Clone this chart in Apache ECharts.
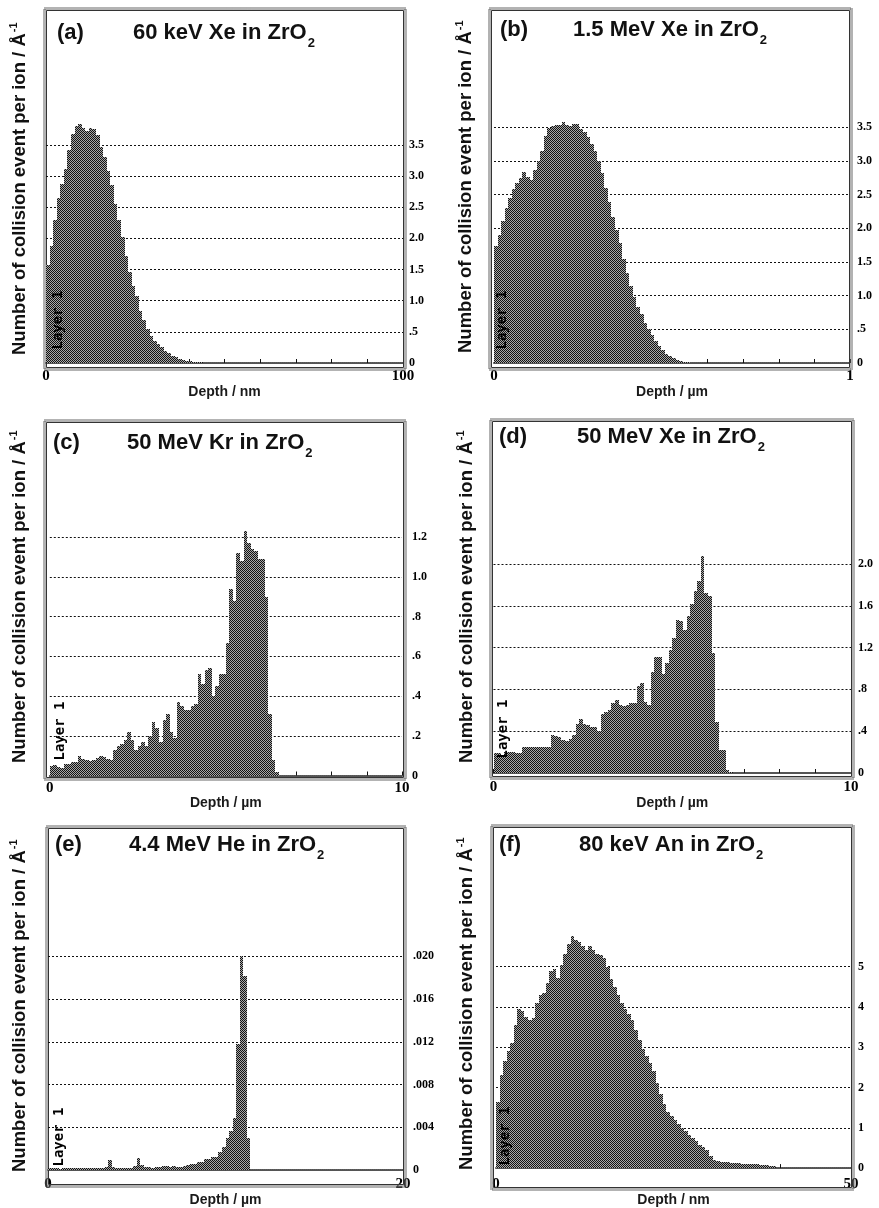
<!DOCTYPE html>
<html><head><meta charset="utf-8">
<script src="https://cdn.jsdelivr.net/npm/echarts@6/dist/echarts.min.js"></script>
<style>html,body{margin:0;padding:0;background:#fff}#c{width:879px;height:1208px}</style>
</head><body><div id="c"></div>
<script>
// ---------------- DATA ----------------
const panelLetters = ['(a)', '(b)', '(c)', '(d)', '(e)', '(f)'];
const panelTitles = ['60 keV Xe in ZrO', '1.5 MeV Xe in ZrO', '50 MeV Kr in ZrO', '50 MeV Xe in ZrO', '4.4 MeV He in ZrO', '80 keV An in ZrO'];
const titleSubscript = '2';
const xAxisNames = ['Depth / nm', 'Depth / µm', 'Depth / µm', 'Depth / µm', 'Depth / µm', 'Depth / nm'];
const yAxisName = 'Number of collision event per ion / Å';
const yAxisNameSup = '-1';
const layerLabel = 'Layer 1';

const xMax = [100, 1, 10, 10, 20, 50];
const xTickStep = [10, 0.1, 1, 1, 10, 10];
const xTickLabelsA = ['0', '100'];
const xTickLabelsB = ['0', '1'];
const xTickLabelsC = ['0', '10'];
const xTickLabelsD = ['0', '10'];
const xTickLabelsE = ['0', '20'];
const xTickLabelsF = ['0', '50'];
const binWidth = [1, 0.01, 0.1, 0.1, 0.2, 0.5];

const yTicksA = [0, 0.5, 1.0, 1.5, 2.0, 2.5, 3.0, 3.5];
const yTickLabelsA = ['0', '.5', '1.0', '1.5', '2.0', '2.5', '3.0', '3.5'];
const yTicksB = [0, 0.5, 1.0, 1.5, 2.0, 2.5, 3.0, 3.5];
const yTickLabelsB = ['0', '.5', '1.0', '1.5', '2.0', '2.5', '3.0', '3.5'];
const yTicksC = [0, 0.2, 0.4, 0.6, 0.8, 1.0, 1.2];
const yTickLabelsC = ['0', '.2', '.4', '.6', '.8', '1.0', '1.2'];
const yTicksD = [0, 0.4, 0.8, 1.2, 1.6, 2.0];
const yTickLabelsD = ['0', '.4', '.8', '1.2', '1.6', '2.0'];
const yTicksE = [0, 0.004, 0.008, 0.012, 0.016, 0.020];
const yTickLabelsE = ['0', '.004', '.008', '.012', '.016', '.020'];
const yTicksF = [0, 1, 2, 3, 4, 5];
const yTickLabelsF = ['0', '1', '2', '3', '4', '5'];

const collisionsA = [1.57,1.88,2.30,2.65,2.88,3.12,3.42,3.68,3.80,3.84,3.78,3.72,3.78,3.76,3.66,3.46,3.30,3.08,2.86,2.55,2.30,2.02,1.72,1.46,1.24,1.08,0.84,0.69,0.55,0.44,0.36,0.30,0.25,0.20,0.16,0.12,0.09,0.07,0.05,0.04,0.03,0.02,0.015,0.01,0.005];
const collisionsB = [1.73,1.90,2.10,2.30,2.45,2.58,2.67,2.74,2.83,2.76,2.72,2.86,3.00,3.15,3.37,3.48,3.52,3.53,3.53,3.57,3.53,3.51,3.54,3.55,3.47,3.42,3.35,3.25,3.15,3.00,2.82,2.60,2.39,2.17,1.98,1.78,1.55,1.33,1.14,0.98,0.83,0.72,0.60,0.50,0.41,0.33,0.25,0.19,0.14,0.10,0.07,0.045,0.03,0.015,0.008];
const collisionsC = [0.05,0.055,0.045,0.04,0.06,0.06,0.07,0.07,0.10,0.085,0.08,0.075,0.08,0.09,0.10,0.095,0.085,0.08,0.13,0.15,0.16,0.18,0.22,0.18,0.13,0.15,0.17,0.15,0.20,0.27,0.24,0.17,0.28,0.31,0.22,0.19,0.37,0.35,0.33,0.33,0.35,0.36,0.51,0.46,0.53,0.54,0.40,0.45,0.51,0.51,0.67,0.94,0.88,1.12,1.08,1.23,1.17,1.14,1.13,1.09,1.09,0.90,0.31,0.08,0.02];
const collisionsD = [0.19,0.19,0.17,0.20,0.20,0.20,0.19,0.19,0.245,0.245,0.245,0.245,0.245,0.245,0.245,0.245,0.36,0.35,0.34,0.32,0.31,0.33,0.36,0.47,0.52,0.47,0.46,0.44,0.44,0.40,0.56,0.58,0.60,0.67,0.70,0.65,0.64,0.65,0.67,0.67,0.83,0.86,0.68,0.65,0.97,1.11,1.11,0.95,1.05,1.18,1.29,1.46,1.45,1.37,1.50,1.62,1.74,1.84,2.08,1.72,1.69,1.15,0.49,0.22,0.22,0.03,0.01];
const collisionsE = [0.0002,0.0002,0.0002,0.0001,0.0002,0.0002,0.0002,0.0002,0.0002,0.0002,0.0002,0.0002,0.0002,0.0002,0.0002,0.0002,0.0003,0.0009,0.0003,0.0002,0.0002,0.0002,0.0002,0.0002,0.0004,0.0011,0.0005,0.0003,0.0003,0.0002,0.0003,0.0003,0.0004,0.0004,0.0003,0.0004,0.0003,0.0003,0.0004,0.0005,0.0006,0.0006,0.0008,0.0008,0.0010,0.0010,0.0012,0.0012,0.0017,0.0022,0.0030,0.0037,0.0049,0.0118,0.0200,0.0182,0.0030];
const collisionsF = [1.65,2.30,2.65,2.90,3.10,3.55,3.95,3.90,3.75,3.68,3.72,4.10,4.30,4.35,4.60,4.88,4.94,4.72,5.05,5.30,5.55,5.75,5.66,5.60,5.52,5.42,5.50,5.40,5.30,5.28,5.20,5.00,4.70,4.50,4.30,4.10,3.95,3.83,3.68,3.43,3.19,2.95,2.79,2.60,2.40,2.10,1.85,1.60,1.40,1.30,1.20,1.10,1.00,0.92,0.82,0.74,0.66,0.58,0.52,0.44,0.30,0.20,0.18,0.15,0.14,0.14,0.13,0.12,0.12,0.11,0.10,0.10,0.10,0.09,0.08,0.08,0.07,0.06,0.04];

// ---------------- LAYOUT ----------------
const collisions = [collisionsA, collisionsB, collisionsC, collisionsD, collisionsE, collisionsF];
const yTicks = [yTicksA, yTicksB, yTicksC, yTicksD, yTicksE, yTicksF];
const yTickLabels = [yTickLabelsA, yTickLabelsB, yTickLabelsC, yTickLabelsD, yTickLabelsE, yTickLabelsF];
const xTickLabels = [xTickLabelsA, xTickLabelsB, xTickLabelsC, xTickLabelsD, xTickLabelsE, xTickLabelsF];

const layout = [
  {frame:[43,7,364,364],   x0:46,   x1:403, base:363,   ppu:62.3,  yMax:5.5,   yStep:0.5,   ylm:6,  xlm:6,  nameGap:17, t:[57,133,33],   yn:[20,355],  ly:[58,320]},
  {frame:[488,7,365,364],  x0:494,  x1:850, base:363,   ppu:67.4,  yMax:5.0,   yStep:0.5,   ylm:7,  xlm:6,  nameGap:17, t:[500,573,30],  yn:[466,353], ly:[502,320]},
  {frame:[43,419,364,362], x0:49.8, x1:402, base:775.5, ppu:198.5, yMax:1.6,   yStep:0.2,   ylm:10, xlm:5,  nameGap:15, t:[53,127,443],  yn:[20,763],  ly:[60,731]},
  {frame:[489,418,366,362],x0:493.5,x1:851, base:773,   ppu:104.5, yMax:3.2,   yStep:0.4,   ylm:7,  xlm:7,  nameGap:17, t:[499,577,437], yn:[467,763], ly:[503,729]},
  {frame:[45,825,362,363], x0:48,   x1:403, base:1183,  ppu:11150, yMax:0.028, yStep:0.004, ylm:10, xlm:7,  nameGap:17, t:[55,129,845],  yn:[20,1172], ly:[59,1137]},
  {frame:[490,824,365,367],x0:496,  x1:851, base:1180,  ppu:41.8,  yMax:8,     yStep:1,     ylm:7,  xlm:9,  nameGap:18, t:[499,579,845], yn:[467,1170],ly:[505,1136]}
];

const SANS = '"Liberation Sans", Arial, Helvetica, sans-serif';
const SERIF = '"Liberation Serif", "Times New Roman", serif';
const MONO = '"DejaVu Sans Mono", monospace';

function makePattern() {
  const c = document.createElement('canvas');
  c.width = 4; c.height = 4;
  const g = c.getContext('2d');
  g.fillStyle = '#a8a8a8'; g.fillRect(0, 0, 4, 4);
  g.fillStyle = '#121212';
  for (let r = 0; r < 4; r++) for (let q = 0; q < 4; q++) if ((r + q) % 2 === 0) g.fillRect(q, r, 1, 1);
  return c;
}
const patCanvas = makePattern();
const patFill = {image: patCanvas, repeat: 'repeat'};
const mctx = document.createElement('canvas').getContext('2d');
function measure(text, font) { mctx.font = font; return mctx.measureText(text).width; }

const grids = [], xAxes = [], yAxes = [], series = [], graphics = [];

layout.forEach((L, i) => {
  const top = L.base - L.yMax * L.ppu;
  grids.push({left: L.x0, top: top, width: L.x1 - L.x0, height: L.base - top});
  const xm = xMax[i];
  const xl = xTickLabels[i];
  xAxes.push({
    type: 'value', gridIndex: i, min: 0, max: xm, interval: xTickStep[i],
    name: xAxisNames[i], nameLocation: 'middle', nameGap: L.nameGap,
    nameTextStyle: {fontFamily: SANS, fontWeight: 'bold', fontSize: 14, color: '#1a1a1a'},
    axisLine: {show: true, lineStyle: {color: '#555', width: 2, type: [1, 1]}},
    axisTick: {show: true, inside: true, length: 4, lineStyle: {color: '#111', width: 1}},
    splitLine: {show: false},
    axisLabel: {
      margin: L.xlm, fontFamily: SERIF, fontWeight: 'bold', fontSize: 15, color: '#000',
      showMinLabel: true, showMaxLabel: true,
      formatter: function (v) {
        if (Math.abs(v) < xm * 1e-6) return xl[0];
        if (Math.abs(v - xm) < xm * 1e-6) return xl[1];
        return '';
      }
    }
  });
  const tk = yTicks[i], tl = yTickLabels[i], st = L.yStep;
  yAxes.push({
    type: 'value', gridIndex: i, position: 'right', min: 0, max: L.yMax, interval: L.yStep,
    axisLine: {show: false}, axisTick: {show: false}, splitLine: {show: false},
    axisLabel: {
      margin: L.ylm, fontFamily: SERIF, fontWeight: 'bold', fontSize: 12, color: '#000',
      formatter: function (v) {
        for (let k = 0; k < tk.length; k++) if (Math.abs(tk[k] - v) < st * 1e-3) return tl[k];
        return '';
      }
    }
  });
  const vals = collisions[i], bw = binWidth[i];
  series.push({
    type: 'custom', xAxisIndex: i, yAxisIndex: i, silent: true, animation: false, z: 4,
    data: vals.map((v, k) => [k * bw, v]),
    encode: {x: 0, y: 1},
    renderItem: function (params, api) {
      const x = api.value(0), y = api.value(1);
      const p0 = api.coord([x, y]);
      const p1 = api.coord([x + bw, 0]);
      const l = Math.round(p0[0]), r = Math.round(p1[0]);
      const t = Math.round(p0[1]), b = Math.round(p1[1]);
      return {type: 'rect', shape: {x: l, y: t, width: r - l, height: b - t}, style: {fill: patFill, stroke: null}};
    },
    markLine: {
      silent: true, animation: false, z: 1, symbol: ['none', 'none'], label: {show: false}, precision: 6,
      lineStyle: {type: [2, 2], color: '#111', width: 1},
      data: tk.filter(v => v > 0).map(v => ({yAxis: v}))
    }
  });

  // frame
  const f = L.frame;
  graphics.push({type: 'rect', z: 1, silent: true,
    shape: {x: f[0] + 1.5, y: f[1] + 1.5, width: f[2] - 3, height: f[3] - 3},
    style: {fill: 'none', stroke: '#666', lineWidth: 3, lineDash: [1, 1]}});
  graphics.push({type: 'rect', z: 1, silent: true,
    shape: {x: f[0] + 3.5, y: f[1] + 3.5, width: f[2] - 7, height: f[3] - 7},
    style: {fill: 'none', stroke: '#333', lineWidth: 1}});

  // title
  const tFont = 'bold 22px ' + SANS;
  graphics.push({type: 'text', z: 10, silent: true, x: L.t[0], y: L.t[2],
    style: {text: panelLetters[i], font: tFont, fill: '#111', textAlign: 'left', textVerticalAlign: 'middle'}});
  graphics.push({type: 'text', z: 10, silent: true, x: L.t[1], y: L.t[2],
    style: {text: panelTitles[i], font: tFont, fill: '#111', textAlign: 'left', textVerticalAlign: 'middle'}});
  const tw = measure(panelTitles[i], tFont);
  graphics.push({type: 'text', z: 10, silent: true, x: L.t[1] + tw + 1, y: L.t[2] + 10,
    style: {text: titleSubscript, font: 'bold 13px ' + SANS, fill: '#111', textAlign: 'left', textVerticalAlign: 'middle'}});

  // y-axis name (rotated)
  const yFont = 'bold 18.5px ' + SANS;
  const yw = measure(yAxisName, yFont);
  graphics.push({type: 'group', x: L.yn[0], y: L.yn[1], rotation: Math.PI / 2, silent: true, z: 10,
    children: [
      {type: 'text', x: 0, y: 0, style: {text: yAxisName, font: yFont, fill: '#111', textAlign: 'left', textVerticalAlign: 'middle'}},
      {type: 'text', x: yw + 1, y: -6, style: {text: yAxisNameSup, font: 'bold 11px ' + SANS, fill: '#111', textAlign: 'left', textVerticalAlign: 'middle'}}
    ]});

  // Layer 1 label
  graphics.push({type: 'text', z: 20, silent: true, x: L.ly[0], y: L.ly[1], rotation: Math.PI / 2,
    style: {text: layerLabel, font: 'bold 14px ' + MONO, fill: '#000', textAlign: 'center', textVerticalAlign: 'middle'}});
});

const chart = echarts.init(document.getElementById('c'), null, {renderer: 'canvas', width: 879, height: 1208});
chart.setOption({
  backgroundColor: '#ffffff',
  animation: false,
  grid: grids, xAxis: xAxes, yAxis: yAxes, series: series,
  graphic: {elements: graphics}
});
</script>
</body></html>
